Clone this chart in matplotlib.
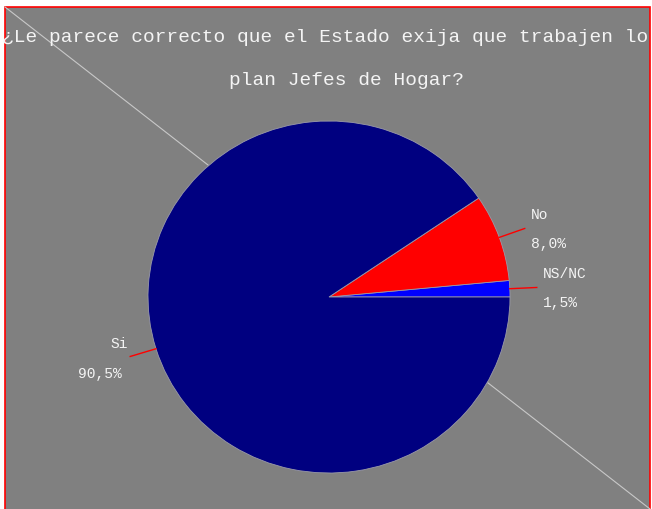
import numpy as np
import matplotlib
matplotlib.use('Agg')
import matplotlib.pyplot as plt
from matplotlib.patches import Rectangle

# datos de la torta
categorias = ['NS/NC', 'No', 'Si']
porcentajes = [1.5, 8.0, 90.5]
etiquetas_pct = ['1,5%', '8,0%', '90,5%']
colores = ['#0000ff', '#ff0000', '#000080']
titulo_1 = '¿Le parece correcto que el Estado exija que trabajen lo'
titulo_2 = 'plan Jefes de Hogar?'

W, H = 652, 509
fig = plt.figure(figsize=(W / 100, H / 100), dpi=100, facecolor='white')
ax = fig.add_axes([0, 0, 1, 1])
ax.set_xlim(0, W)
ax.set_ylim(0, H)
ax.axis('off')

# fondo gris con borde rojo
fondo = Rectangle((5, -5), 645, H - 7 + 5, facecolor='#808080',
                  edgecolor='#ff0000', linewidth=1.2, zorder=0)
ax.add_patch(fondo)

# linea diagonal de fondo
ax.plot([5, 650], [H - 7, 0], color='#c8c8c8', linewidth=0.8, zorder=1)

# titulo (recortado como en el original)
mono = 'Liberation Mono'
t1 = ax.text(2, H - 37, titulo_1, family=mono, fontsize=14, color='#f4f4f4',
             ha='left', va='center', zorder=5)
t2 = ax.text(229, H - 80, titulo_2, family=mono, fontsize=14, color='#f4f4f4',
             ha='left', va='center', zorder=5)
t1.set_clip_path(fondo)
t2.set_clip_path(fondo)

# torta (un poco achatada, como en el original)
pie_x0, pie_x1 = 148, 510
pie_top, pie_bot = 121, 473
ax2 = fig.add_axes([pie_x0 / W, (H - pie_bot) / H,
                    (pie_x1 - pie_x0) / W, (pie_bot - pie_top) / H])
wedges, _ = ax2.pie(porcentajes, colors=colores, startangle=0, counterclock=True,
                    radius=1,
                    wedgeprops=dict(edgecolor='#9a9aa8', linewidth=0.6))
ax2.set_aspect('auto')
ax2.set_xlim(-1, 1)
ax2.set_ylim(-1, 1)
ax2.axis('off')

# lineas guia y etiquetas
largo = 1 + 27 / 181
pt = 0.72  # puntos por pixel
estilo = dict(textcoords='offset points', family=mono, fontsize=10.5,
              color='#f4f4f4', va='center', annotation_clip=False)
for w, nombre, pct in zip(wedges, categorias, etiquetas_pct):
    ang = np.deg2rad((w.theta1 + w.theta2) / 2)
    x0, y0 = np.cos(ang), np.sin(ang)
    x1, y1 = largo * np.cos(ang), largo * np.sin(ang)
    ax2.plot([x0, x1], [y0, y1], color='#ff0000', linewidth=1, clip_on=False)
    if np.cos(ang) >= 0:
        ax2.annotate(nombre, (x1, y1), xytext=(6 * pt, 13 * pt), ha='left', **estilo)
        ax2.annotate(pct, (x1, y1), xytext=(6 * pt, -16 * pt), ha='left', **estilo)
    else:
        ax2.annotate(nombre, (x1, y1), xytext=(-2 * pt, 12 * pt), ha='right', **estilo)
        ax2.annotate(pct, (x1, y1), xytext=(-8 * pt, -18 * pt), ha='right', **estilo)

fig.savefig('out.png', dpi=100, facecolor='white')
